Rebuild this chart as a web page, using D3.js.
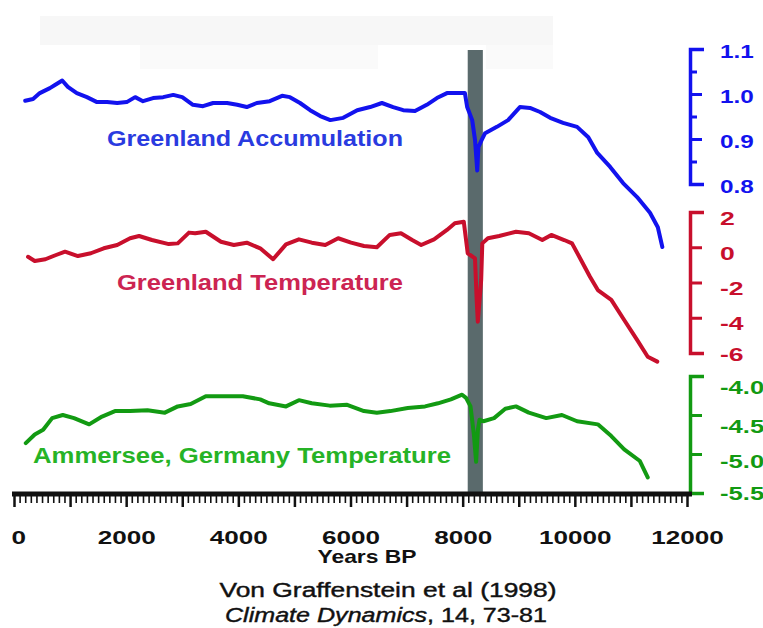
<!DOCTYPE html>
<html>
<head>
<meta charset="utf-8">
<script src="https://cdn.jsdelivr.net/npm/d3@7"></script>
<style>
  html, body { margin: 0; padding: 0; background: #ffffff; }
  svg { display: block; }
  text { font-family: "Liberation Sans", Arial, Helvetica, sans-serif; }
</style>
</head>
<body>
<svg id="chart" width="763" height="628"></svg>
<script>
// ---- Data: years before present and values for each record ----
const accumYears = [200, 340, 460, 640, 730, 860, 960, 1120, 1300, 1480, 1660, 1840, 2010, 2160, 2300, 2480, 2660, 2840, 3000, 3190, 3370, 3550, 3800, 3980, 4150, 4330, 4560, 4780, 4920, 5100, 5280, 5460, 5640, 5870, 6120, 6350, 6560, 6760, 6940, 7150, 7360, 7540, 7720, 7900, 8040, 8080, 8170, 8220, 8260, 8280, 8340, 8400, 8610, 8810, 9020, 9200, 9380, 9560, 9790, 10040, 10240, 10400, 10630, 10860, 11110, 11340, 11480, 11560];
const accumValues = [0.985, 0.989, 1.002, 1.013, 1.020, 1.030, 1.016, 1.002, 0.993, 0.982, 0.982, 0.980, 0.982, 0.993, 0.984, 0.991, 0.993, 0.998, 0.993, 0.976, 0.973, 0.980, 0.980, 0.976, 0.971, 0.980, 0.984, 0.996, 0.993, 0.980, 0.964, 0.951, 0.942, 0.947, 0.964, 0.971, 0.980, 0.971, 0.964, 0.962, 0.976, 0.991, 1.002, 1.002, 1.002, 0.971, 0.942, 0.898, 0.830, 0.882, 0.898, 0.913, 0.927, 0.942, 0.971, 0.969, 0.960, 0.947, 0.936, 0.927, 0.904, 0.869, 0.838, 0.802, 0.771, 0.736, 0.704, 0.660];

const greenlandYears = [250, 370, 560, 750, 910, 1140, 1370, 1600, 1840, 2070, 2230, 2460, 2760, 2920, 3120, 3230, 3420, 3690, 3920, 4150, 4390, 4620, 4850, 5080, 5310, 5550, 5780, 6010, 6240, 6470, 6700, 6900, 7100, 7260, 7490, 7720, 7860, 8020, 8090, 8220, 8250, 8270, 8330, 8350, 8450, 8650, 8950, 9180, 9420, 9580, 9810, 9950, 10110, 10270, 10410, 10650, 10880, 11110, 11300, 11470];
const greenlandTemps = [-0.54, -0.78, -0.68, -0.44, -0.25, -0.50, -0.34, -0.06, 0.13, 0.51, 0.64, 0.41, 0.18, 0.22, 0.83, 0.79, 0.88, 0.31, 0.13, 0.26, -0.06, -0.68, 0.16, 0.45, 0.26, 0.13, 0.51, 0.26, 0.07, 0.00, 0.70, 0.79, 0.41, 0.13, 0.45, 0.98, 1.36, 1.45, -0.34, -0.63, -2.99, -4.22, -1.86, 0.22, 0.51, 0.64, 0.88, 0.79, 0.41, 0.70, 0.41, 0.22, -0.72, -1.67, -2.43, -2.99, -4.13, -5.26, -6.21, -6.49];

const ammerseeYears = [210, 370, 520, 680, 870, 1070, 1340, 1570, 1800, 2070, 2380, 2690, 2920, 3150, 3420, 3770, 4080, 4390, 4550, 4850, 5080, 5310, 5630, 5940, 6240, 6470, 6710, 7020, 7330, 7560, 7790, 7990, 8060, 8140, 8200, 8240, 8270, 8300, 8370, 8560, 8760, 8950, 9180, 9490, 9770, 10040, 10410, 10650, 10880, 11160, 11300];
const ammerseeTemps = [-4.86, -4.75, -4.69, -4.54, -4.50, -4.54, -4.62, -4.52, -4.45, -4.45, -4.44, -4.47, -4.39, -4.36, -4.26, -4.26, -4.26, -4.30, -4.35, -4.39, -4.31, -4.35, -4.38, -4.37, -4.45, -4.47, -4.45, -4.41, -4.39, -4.35, -4.30, -4.24, -4.28, -4.39, -4.75, -5.10, -4.70, -4.56, -4.58, -4.54, -4.42, -4.39, -4.47, -4.54, -4.50, -4.58, -4.62, -4.77, -4.94, -5.09, -5.30];

// 8.2 ka cold event band (years BP)
const eventSpan = [8090, 8360];

// Axis ticks
const yearTicksLabelled = [0, 2000, 4000, 6000, 8000, 10000, 12000];
const accumTicks = [0.8, 0.9, 1.0, 1.1];
const accumMinorTicks = [0.85, 0.95, 1.05];
const greenlandTicks = [-6, -4, -2, 0, 2];
const ammerseeTicks = [-5.5, -5.0, -4.5, -4.0];

const seriesNames = ["Greenland Accumulation", "Greenland Temperature", "Ammersee, Germany Temperature"];
const xTitle = "Years BP";

// ---- Colours ----
const BLUE = "#1212ee", BLUE_TXT = "#2a3be0";
const RED = "#c80f2c", RED_TXT = "#cc2452";
const GREEN = "#129a12", GREEN_TXT = "#26b326";
const BAR = "#5a6a6c";

const svg = d3.select("#chart");

// ---- Scales ----
const x = d3.scaleLinear().domain([0, 12000]).range([14, 687]);
const yAccum = d3.scaleLinear().domain([0.8, 1.1]).range([184, 49]);
const yGreen = d3.scaleLinear().domain([-6, 2]).range([353, 212]);
const yAmmer = d3.scaleLinear().domain([-5.5, -4.0]).range([493, 376]);

const axisY = 494;
const rightAxisX = 690;

// faint header panel
svg.append("rect").attr("x", 40).attr("y", 16).attr("width", 513).attr("height", 29).attr("fill", "#f7f7f7");
svg.append("rect").attr("x", 140).attr("y", 45).attr("width", 413).attr("height", 24).attr("fill", "#fafafa");
svg.append("rect").attr("x", 378).attr("y", 45).attr("width", 108).attr("height", 24).attr("fill", "#ffffff");

// ---- Event band ----
svg.append("rect")
  .attr("x", x(eventSpan[0]))
  .attr("width", x(eventSpan[1]) - x(eventSpan[0]))
  .attr("y", 50)
  .attr("height", axisY - 50)
  .attr("fill", BAR);

// ---- Series lines ----
function drawSeries(years, vals, yScale, color) {
  const pts = years.map((yr, i) => [yr, vals[i]]);
  svg.append("path")
    .datum(pts)
    .attr("d", d3.line().x(d => x(d[0])).y(d => yScale(d[1])))
    .attr("fill", "none")
    .attr("stroke", color)
    .attr("stroke-width", 4)
    .attr("stroke-linejoin", "round")
    .attr("stroke-linecap", "round");
}
drawSeries(accumYears, accumValues, yAccum, BLUE);
drawSeries(greenlandYears, greenlandTemps, yGreen, RED);
drawSeries(ammerseeYears, ammerseeTemps, yAmmer, GREEN);

// ---- Series labels ----
function seriesLabel(txt, x0, width, baseline, color, size) {
  svg.append("text")
    .attr("x", x0).attr("y", baseline)
    .attr("font-size", size).attr("font-weight", "bold")
    .attr("fill", color)
    .attr("textLength", width).attr("lengthAdjust", "spacingAndGlyphs")
    .text(txt);
}
seriesLabel(seriesNames[0], 107, 296, 146, BLUE_TXT, 22);
seriesLabel(seriesNames[1], 117, 286, 290, RED_TXT, 22);
seriesLabel(seriesNames[2], 33, 418, 463, GREEN_TXT, 22);

// ---- Right-hand axes ----
function rightAxis(scale, ticks, minor, color, fmt, labelShift, stretch, size) {
  const g = svg.append("g").attr("transform", `translate(${rightAxisX},0)`);
  if (minor.length) {
    const gm = g.append("g").call(d3.axisRight(scale).tickValues(minor).tickSize(7).tickFormat(""));
    gm.select(".domain").remove();
    gm.selectAll("line").attr("stroke", color).attr("stroke-width", 3);
  }
  const ga = g.append("g").call(
    d3.axisRight(scale).tickValues(ticks).tickSizeInner(12).tickSizeOuter(14).tickFormat(fmt)
  );
  ga.select(".domain").attr("stroke", color).attr("stroke-width", 3.5).attr("fill", "none");
  ga.selectAll(".tick line").attr("stroke", color).attr("stroke-width", 3);
  ga.selectAll(".tick text")
    .attr("fill", color)
    .attr("font-size", size)
    .attr("font-weight", "bold")
    .attr("font-family", "'Liberation Sans', Arial, sans-serif")
    .attr("x", 30 / stretch)
    .attr("dy", (d, i) => labelShift(d, i))
    .attr("dominant-baseline", "middle")
    .attr("transform", `scale(${stretch},1)`);
}
rightAxis(yAccum, accumTicks, accumMinorTicks, BLUE, d3.format(".1f"), () => 4, 1.35, 18);
rightAxis(yGreen, greenlandTicks, [], RED, d => d3.format("d")(d).replace("−", "-"), d => (d === -6 ? 2 : 7), 1.4, 19);
rightAxis(yAmmer, ammerseeTicks, [], GREEN, d => d3.format(".1f")(d).replace("−", "-"), d => (d === -5.5 ? 1 : d === -5.0 ? 8 : 12), 1.35, 19);

// ---- Bottom axis ----
const gx = svg.append("g").attr("transform", `translate(0,${axisY})`);
const minorYears = d3.range(0, 12001, 100);
const gxm = gx.append("g").call(d3.axisBottom(x).tickValues(minorYears).tickSize(9).tickFormat(""));
gxm.select(".domain").remove();
gxm.selectAll("line")
  .attr("stroke", "#111")
  .attr("stroke-width", d => (d % 1000 === 0 ? 2.5 : 1.6))
  .attr("y2", d => (d % 1000 === 0 ? 13 : 9));
gx.append("line")
  .attr("x1", 12).attr("x2", rightAxisX + 2)
  .attr("y1", 0).attr("y2", 0)
  .attr("stroke", "#111").attr("stroke-width", 5);

const gxl = svg.append("g").attr("transform", `translate(0,${axisY})`)
  .call(d3.axisBottom(x).tickValues(yearTicksLabelled).tickSize(0).tickFormat(d3.format("d")));
gxl.select(".domain").remove();
gxl.selectAll("text")
  .attr("fill", "#111")
  .attr("font-size", 18)
  .attr("font-weight", "bold")
  .attr("font-family", "'Liberation Sans', Arial, sans-serif")
  .attr("x", d => (d === 0 ? 3 : 0))
  .attr("y", 50)
  .attr("dy", 0)
  .attr("transform", "scale(1.45,1)");

// x-axis title
svg.append("text")
  .attr("transform", "translate(367,563) scale(1.27,1)")
  .attr("text-anchor", "middle")
  .attr("font-size", 18).attr("font-weight", "bold").attr("fill", "#111")
  .text(xTitle);

// ---- Citation ----
svg.append("text")
  .attr("x", 388).attr("y", 597)
  .attr("text-anchor", "middle")
  .attr("font-size", 20).attr("fill", "#111")
  .attr("stroke", "#111").attr("stroke-width", 0.4)
  .attr("textLength", 337).attr("lengthAdjust", "spacingAndGlyphs")
  .text("Von Graffenstein et al (1998)");

const cite = svg.append("text")
  .attr("x", 386).attr("y", 622)
  .attr("text-anchor", "middle")
  .attr("font-size", 20).attr("fill", "#111")
  .attr("stroke", "#111").attr("stroke-width", 0.4)
  .attr("textLength", 322).attr("lengthAdjust", "spacingAndGlyphs");
cite.append("tspan").attr("font-style", "italic").text("Climate Dynamics");
cite.append("tspan").text(", 14, 73-81");
</script>
</body>
</html>
